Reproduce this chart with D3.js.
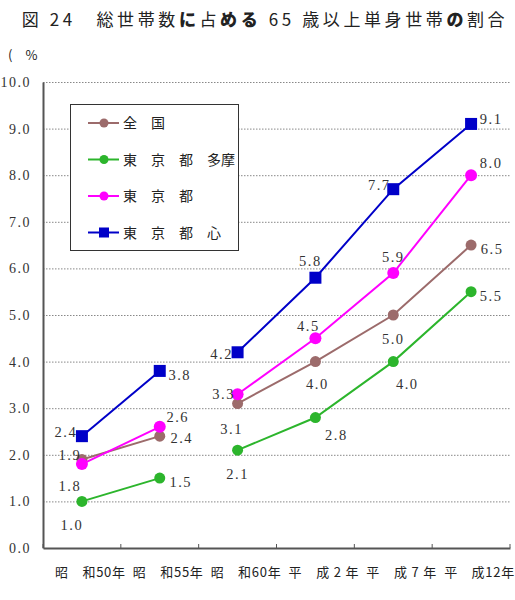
<!DOCTYPE html>
<html><head><meta charset="utf-8">
<script src="https://cdn.jsdelivr.net/npm/d3@7"></script>
<style>body{margin:0;background:#fff}svg{display:block}</style>
</head><body>
<svg id="c" width="515" height="600"></svg>
<script>
const categories = ["昭　和50年","昭　和55年","昭　和60年","平　成 2 年","平　成 7 年","平　成12年"];
const yTicks = [0,1,2,3,4,5,6,7,8,9,10];
const seriesNames = ["全　国","東　京　都　多摩","東　京　都","東　京　都　心"];
const zenkoku = [1.9, 2.4, 3.1, 4.0, 5.0, 6.5];
const tama    = [1.0, 1.5, 2.1, 2.8, 4.0, 5.5];
const tokyo   = [1.8, 2.6, 3.3, 4.5, 5.9, 8.0];
const toshin  = [2.4, 3.8, 4.2, 5.8, 7.7, 9.1];
const segments = [[0,1],[2,5]];

const colors = ["#9c6b6b","#2cb52c","#ff00ff","#0000c8"];
const shapes = ["circle","circle","circle","square"];
// label offsets (style) per series per point
const labelOff = [
  [[-12,-4],[22,2],[-6,25],[2,22],[0,24],[21,4]],
  [[-10,24],[21,4],[0,24],[21,17],[14,22],[20,4]],
  [[-12,22],[18,-10],[-14,0],[-7,-12],[0,-16],[20,-12]],
  [[-16,-4],[20,4],[-16,2],[-5,-17],[-14,-4],[20,-5]]
];
const data = [zenkoku, tama, tokyo, toshin];

const svg = d3.select("#c");
const m = {l:43, r:510, t:82, b:548};
const x = d3.scaleBand().domain(categories).range([m.l, m.r]);
const y = d3.scaleLinear().domain([0,10]).range([m.b, m.t]);
const font = "'Noto Sans CJK JP', sans-serif";
const numFont = "'Liberation Serif', 'DejaVu Serif', serif";

// title
const title = svg.append("text").attr("x", 265).attr("y", 26).attr("text-anchor","middle")
  .attr("font-family", font).attr("font-size", 17).attr("fill","#222").attr("letter-spacing", 3.6);
[["図 ",400],["24",400],["　総世帯数",400],["に",900],["占",400],["める",900],[" 65 歳以上単身世帯",400],["の",900],["割合",400]]
  .forEach(([t,w])=>title.append("tspan").attr("font-weight",w).text(t));

svg.append("text").attr("x",8).attr("y",60).attr("font-family",font).attr("font-size",13)
  .attr("fill","#222").attr("xml:space","preserve").text("(　%");

// grid
svg.append("g").selectAll("line").data(yTicks.filter(d=>d>0)).join("line")
  .attr("x1", m.l).attr("x2", m.r).attr("y1", d=>y(d)+0.5).attr("y2", d=>y(d)+0.5)
  .attr("stroke","#888").attr("stroke-width",1).attr("stroke-dasharray","1.5,1.5");

// y axis
const ya = svg.append("g").attr("transform",`translate(${m.l},0)`)
  .call(d3.axisLeft(y).tickValues(yTicks).tickFormat(d3.format(".1f")).tickSize(0).tickPadding(12));
ya.select(".domain").attr("stroke","#555").attr("stroke-width",2);
ya.selectAll("text").attr("font-family",numFont).attr("font-size",14).attr("fill","#333").attr("letter-spacing",1.5);

// x axis
const xa = svg.append("g").attr("transform",`translate(0,${m.b})`)
  .call(d3.axisBottom(x).tickSize(0).tickFormat(""));
xa.select(".domain").attr("stroke","#555").attr("stroke-width",2);
const bounds = [m.l].concat(categories.map(c=>x(c)+x.bandwidth()));
svg.append("g").selectAll("line").data(bounds).join("line")
  .attr("x1",d=>d).attr("x2",d=>d).attr("y1",m.b-4).attr("y2",m.b).attr("stroke","#555").attr("stroke-width",1);
svg.append("g").selectAll("text").data(categories).join("text")
  .attr("x", d=>x(d)+12).attr("y", 577).attr("font-family",font).attr("font-size",13).attr("fill","#222")
  .attr("textLength",70).attr("lengthAdjust","spacing").text(d=>d);

// series
const cx = i => x(categories[i]) + x.bandwidth()/2;
data.forEach((vals, s) => {
  const g = svg.append("g");
  const line = d3.line().x(d=>cx(d)).y(d=>y(vals[d]));
  segments.forEach(([a,b]) => {
    g.append("path").attr("d", line(d3.range(a,b+1))).attr("fill","none")
      .attr("stroke",colors[s]).attr("stroke-width",2);
  });
  vals.forEach((v,i) => {
    if (shapes[s]==="square") {
      g.append("rect").attr("x",cx(i)-6).attr("y",y(v)-6).attr("width",12).attr("height",12).attr("fill",colors[s]);
    } else {
      g.append("circle").attr("cx",cx(i)).attr("cy",y(v)).attr("r", s===2?6:5.5).attr("fill",colors[s]);
    }
    g.append("text").attr("x",cx(i)+labelOff[s][i][0]).attr("y",y(v)+labelOff[s][i][1]+5)
      .attr("text-anchor","middle").attr("font-family",numFont).attr("font-size",14.5).attr("fill","#333")
      .attr("letter-spacing",1.5).text(d3.format(".1f")(v));
  });
});

// legend
const lg = svg.append("g");
lg.append("rect").attr("x",70.5).attr("y",104.5).attr("width",168).attr("height",146)
  .attr("fill","#fff").attr("stroke","#333").attr("stroke-width",1);
seriesNames.forEach((n,s)=>{
  const yy = 123 + s*36.5;
  lg.append("line").attr("x1",88).attr("x2",119).attr("y1",yy).attr("y2",yy).attr("stroke",colors[s]).attr("stroke-width",2);
  if (shapes[s]==="square") lg.append("rect").attr("x",99).attr("y",yy-5).attr("width",10).attr("height",10).attr("fill",colors[s]);
  else lg.append("circle").attr("cx",104).attr("cy",yy).attr("r",4.5).attr("fill",colors[s]);
  lg.append("text").attr("x",123).attr("y",yy+5).attr("font-family",font).attr("font-size",14).attr("fill","#222").text(n);
});
</script>
</body></html>
